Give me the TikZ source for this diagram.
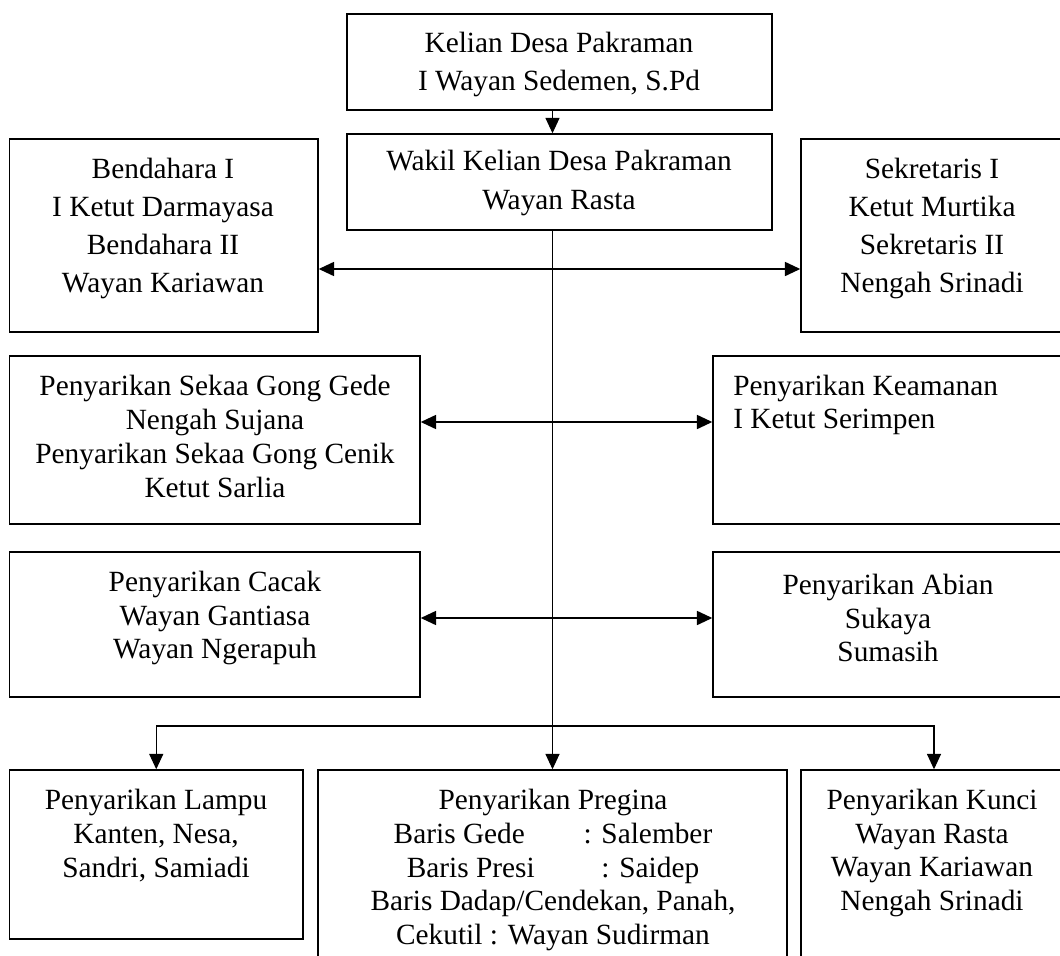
\documentclass[tikz,border=0pt]{standalone}
\usepackage{fontspec}
\setmainfont{Liberation Serif}
\usetikzlibrary{arrows.meta}
\begin{document}
\begin{tikzpicture}[x=0.75pt,y=-0.75pt,
  box/.style={draw,line width=1.1pt,inner sep=0pt,rectangle},
  tbig/.style={align=center,inner sep=0pt,font=\fontsize{22pt}{29pt}\selectfont},
  tsm/.style={align=center,inner sep=0pt,font=\fontsize{22pt}{25.3pt}\selectfont},
  tip/.style={-{Triangle[length=11.5pt,width=10.5pt]}},
  arr/.style={tip,line width=0.8pt},
  darr/.style={{Triangle[length=11.5pt,width=10.5pt]}-{Triangle[length=11.5pt,width=10.5pt]},line width=1.3pt}]
\useasboundingbox (0,0) rectangle (1060,956);
\clip (0,0) rectangle (1060,956);
% boxes
\node[box,minimum width=425*0.75pt,minimum height=96*0.75pt] (kelian) at (559.5,62) {};
\node[box,minimum width=425*0.75pt,minimum height=96*0.75pt] (wakil) at (559.5,182) {};
\node[box,minimum width=308.5*0.75pt,minimum height=193*0.75pt] (bend) at (163.75,235.5) {};
\node[box,minimum width=266*0.75pt,minimum height=193*0.75pt] (sekr) at (934,235.5) {};
\node[box,minimum width=410.5*0.75pt,minimum height=168*0.75pt] (gong) at (214.75,440) {};
\node[box,minimum width=362*0.75pt,minimum height=168*0.75pt] (keam) at (894,440) {};
\node[box,minimum width=410.5*0.75pt,minimum height=145*0.75pt] (cacak) at (214.75,624.5) {};
\node[box,minimum width=362*0.75pt,minimum height=145*0.75pt] (abian) at (894,624.5) {};
\node[box,minimum width=293.5*0.75pt,minimum height=169*0.75pt] (lampu) at (156.25,854.5) {};
\node[box,minimum width=469*0.75pt,minimum height=210*0.75pt] (pregina) at (552.5,875) {};
\node[box,minimum width=266*0.75pt,minimum height=210*0.75pt] (kunci) at (934,875) {};
% texts
\node[tbig] (tkelian) at (559,64.5) {Kelian Desa Pakraman\\I Wayan Sedemen, S.Pd};
\node[tbig] (twakil) at (559,183) {Wakil Kelian Desa Pakraman\\Wayan Rasta};
\node[tbig,font=\fontsize{22pt}{28.7pt}\selectfont] (tbend) at (163,228.5) {Bendahara I\\I Ketut Darmayasa\\Bendahara II\\Wayan Kariawan};
\node[tbig,font=\fontsize{22pt}{28.7pt}\selectfont] (tsekr) at (932,228.5) {Sekretaris I\\Ketut Murtika\\Sekretaris II\\Nengah Srinadi};
\node[tsm] (tgong) at (215,436.5) {Penyarikan Sekaa Gong Gede\\Nengah Sujana\\Penyarikan Sekaa Gong Cenik\\Ketut Sarlia};
\node[tsm,align=left,anchor=west] (tkeam) at (733,405) {Penyarikan Keamanan\\I Ketut Serimpen};
\node[tsm] (tcacak) at (215,618) {Penyarikan Cacak\\Wayan Gantiasa\\Wayan Ngerapuh};
\node[tsm] (tabian) at (888,618) {Penyarikan Abian\\Sukaya\\Sumasih};
\node[tsm] (tlampu) at (156,835.5) {Penyarikan Lampu\\Kanten, Nesa,\\Sandri, Samiadi};
\node[tsm] (tpregina) at (553,870) {Penyarikan Pregina\\Baris Gede\hspace{44pt}: Salember\\Baris Presi\hspace{50pt}: Saidep\\Baris Dadap/Cendekan, Panah,\\Cekutil : Wayan Sudirman};
\node[tsm] (tkunci) at (932,853) {Penyarikan Kunci\\Wayan Rasta\\Wayan Kariawan\\Nengah Srinadi};
% connectors
\coordinate (h1) at (552.5,269);
\coordinate (h2) at (552.5,422);
\coordinate (h3) at (552.5,618);
\coordinate (br) at (552.5,726);
\draw[arr] (pregina.north |- kelian.south) -- (pregina.north |- wakil.north);
\draw[arr] (pregina.north |- wakil.south) -- (pregina.north);
\draw[darr] (h1 -| bend.east) -- (h1 -| sekr.west);
\draw[darr] (h2 -| gong.east) -- (h2 -| keam.west);
\draw[darr] (h3 -| cacak.east) -- (h3 -| abian.west);
\draw[arr] (br) -| (lampu.north);
\draw[arr] (br) -| (kunci.north);
\end{tikzpicture}
\end{document}
